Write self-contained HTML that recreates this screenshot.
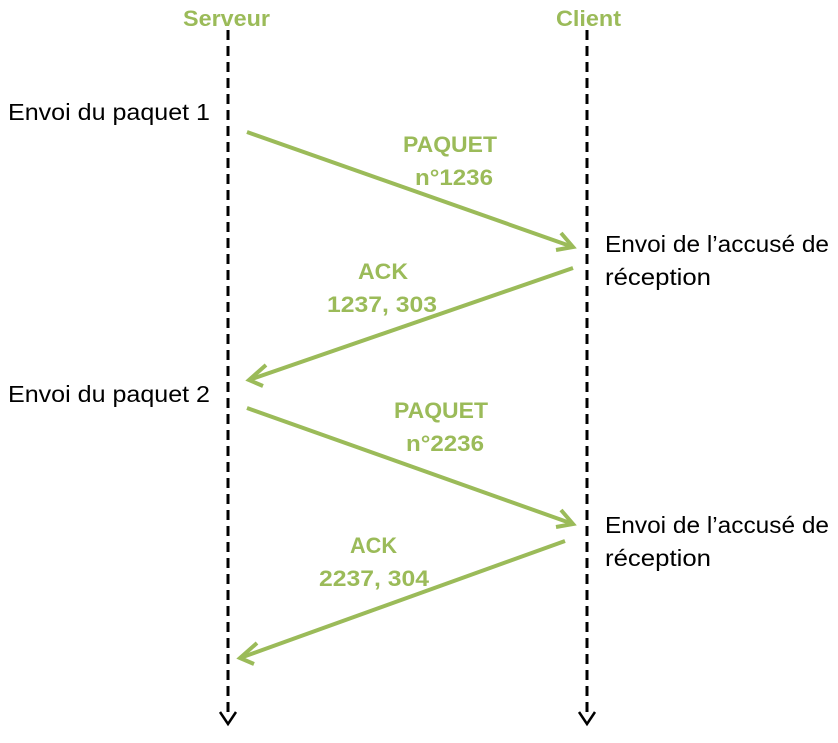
<!DOCTYPE html>
<html><head><meta charset="utf-8"><style>
html,body{margin:0;padding:0;background:#fff;}
svg text{font-family:"Liberation Sans",sans-serif;}
</style></head><body>
<svg width="838" height="738" viewBox="0 0 838 738" xmlns="http://www.w3.org/2000/svg">
<g stroke="#000" stroke-width="3" fill="none">
<line x1="228" y1="30" x2="228" y2="718" stroke-dasharray="10,6"/>
<line x1="587" y1="30" x2="587" y2="718" stroke-dasharray="10,6"/>
<polyline points="220,712 228,724 236,712" stroke-width="2.5"/>
<polyline points="579,712 587,724 595,712" stroke-width="2.5"/>
</g>
<g stroke="#9bbb59" stroke-width="4" fill="none" stroke-linecap="butt">
<line x1="247" y1="132" x2="573" y2="247"/>
<polyline points="561,233 573,247 556,250"/>
<line x1="573" y1="268" x2="249" y2="380"/>
<polyline points="266,365 249,380 263,386"/>
<line x1="247" y1="408" x2="573" y2="524"/>
<polyline points="561,510 573,524 556,527"/>
<line x1="565" y1="541" x2="240" y2="658"/>
<polyline points="257,643 240,658 254,664"/>
</g>
<g fill="#9bbb59" font-weight="bold" font-size="22" lengthAdjust="spacingAndGlyphs">
<text x="183" y="26" textLength="87" lengthAdjust="spacingAndGlyphs">Serveur</text>
<text x="556" y="26" textLength="65" lengthAdjust="spacingAndGlyphs">Client</text>
<text x="403" y="152" textLength="94" lengthAdjust="spacingAndGlyphs">PAQUET</text>
<text x="415" y="185" textLength="78" lengthAdjust="spacingAndGlyphs">n°1236</text>
<text x="358" y="279" textLength="50" lengthAdjust="spacingAndGlyphs">ACK</text>
<text x="327" y="312" textLength="110" lengthAdjust="spacingAndGlyphs">1237, 303</text>
<text x="394" y="418" textLength="94" lengthAdjust="spacingAndGlyphs">PAQUET</text>
<text x="406" y="451" textLength="78" lengthAdjust="spacingAndGlyphs">n°2236</text>
<text x="350" y="553" textLength="47" lengthAdjust="spacingAndGlyphs">ACK</text>
<text x="319" y="586" textLength="110" lengthAdjust="spacingAndGlyphs">2237, 304</text>
</g>
<g fill="#000" font-size="23">
<text x="8" y="120" textLength="202" lengthAdjust="spacingAndGlyphs">Envoi du paquet 1</text>
<text x="8" y="402" textLength="202" lengthAdjust="spacingAndGlyphs">Envoi du paquet 2</text>
<text x="605" y="252" textLength="224" lengthAdjust="spacingAndGlyphs">Envoi de l’accusé de</text>
<text x="605" y="285" textLength="106" lengthAdjust="spacingAndGlyphs">réception</text>
<text x="605" y="533" textLength="224" lengthAdjust="spacingAndGlyphs">Envoi de l’accusé de</text>
<text x="605" y="566" textLength="106" lengthAdjust="spacingAndGlyphs">réception</text>
</g>
</svg>
</body></html>
